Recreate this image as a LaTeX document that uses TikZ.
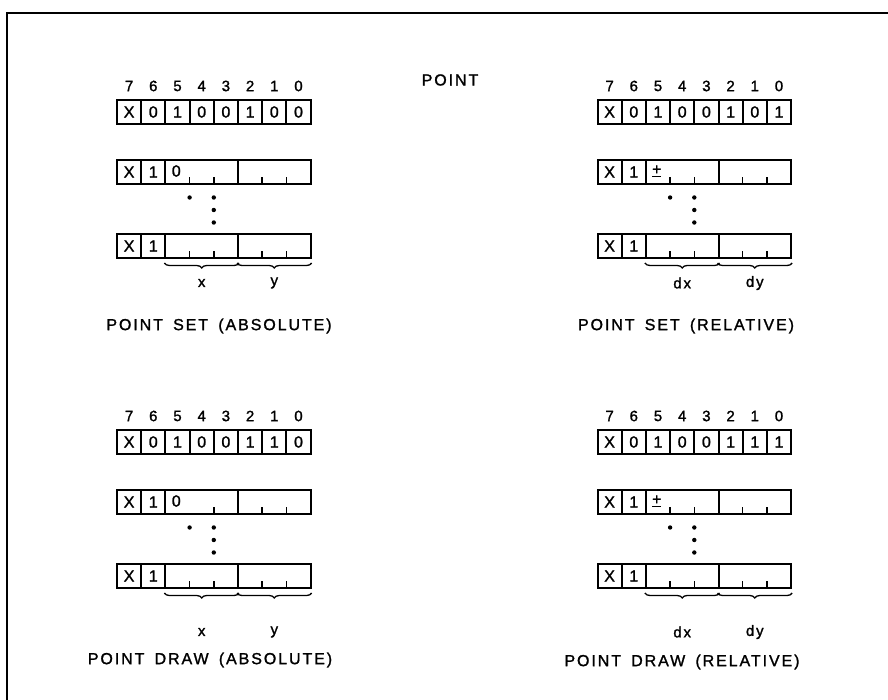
\documentclass[tikz,border=0pt]{standalone}
\usepackage{fontspec}
\setmainfont{Liberation Sans}[FakeBold=1.4]
\newfontfamily\ttlfont{Liberation Sans}[LetterSpace=12,FakeBold=1.4,WordSpace=1.6]
\usetikzlibrary{decorations.pathreplacing}
\def\cw{24.2}
\newcommand\regblock[9]{%
% #1 prefix, #2 x0, #3 y0, #4 bits 5..0, #5 row2 first text, #6 row2 ticks, #7 label A, #8 label B, #9 label y
\begin{scope}[shift={(#2,#3)}]
  \foreach \i in {0,...,7}{\pgfmathtruncatemacro\bb{7-\i}\node[bitnum] (#1n\i) at ({(\i+0.5)*\cw},-14) {\bb};}
  \node[cellbox] (#1ax) at (0.5*\cw,12) {X};
  \node[cellbox] (#1a1) at (1.5*\cw,12) {0};
  \foreach \v [count=\k from 2] in {#4}{\node[cellbox] (#1a\k) at ({(\k+0.5)*\cw},12) {\v};}
  % row 2
  \node[cellbox] (#1bx) at (0.5*\cw,72) {X};
  \node[cellbox] (#1b1) at (1.5*\cw,72) {1};
  \node[fieldbox] (#1bA) at (3.5*\cw,72) {};
  \node[fieldbox] (#1bB) at (6.5*\cw,72) {};
  \node[cellbox, draw=none] (#1bs) at (2.45*\cw,71) {#5};
  \foreach \t in {#6}{\draw[tickmark] ({\t*\cw},84) -- ++(0,-7);}
  \foreach \t in {6,7}{\draw[tickmark] ({\t*\cw},84) -- ++(0,-7);}
  % dots
  \node[dotmark] (#1d1) at (3*\cw,97.5) {};
  \node[dotmark] (#1d2) at (4*\cw,97.5) {};
  \node[dotmark] (#1d3) at (4*\cw,110) {};
  \node[dotmark] (#1d4) at (4*\cw,122.5) {};
  % row 3
  \node[cellbox] (#1cx) at (0.5*\cw,146) {X};
  \node[cellbox] (#1c1) at (1.5*\cw,146) {1};
  \node[fieldbox] (#1cA) at (3.5*\cw,146) {};
  \node[fieldbox] (#1cB) at (6.5*\cw,146) {};
  \foreach \t in {3,4,6,7}{\draw[tickmark] ({\t*\cw},158) -- ++(0,-7);}
  \draw[bracepath] ([yshift=-4pt]#1cA.south west) -- ([yshift=-4pt]#1cA.south east);
  \draw[bracepath] ([yshift=-4pt]#1cB.south west) -- ([yshift=-4pt]#1cB.south east);
  \node[fieldlabel] (#1lA) at (3.5*\cw,#9) {#7};
  \node[fieldlabel] (#1lB) at (6.5*\cw,#9) {#8};
\end{scope}}
\begin{document}
\begin{tikzpicture}[x=1pt,y=-1pt,
  boxline/.style={line width=2pt},
  cellbox/.style={draw, boxline, minimum width=24.2pt, minimum height=24pt, inner sep=0pt, font=\fontsize{16}{16}\selectfont},
  fieldbox/.style={draw, boxline, minimum width=72.6pt, minimum height=24pt, inner sep=0pt},
  bitnum/.style={font=\fontsize{15}{15}\selectfont, inner sep=0pt},
  tickmark/.style={line width=1.5pt},
  dotmark/.style={circle, fill, inner sep=0pt, minimum size=4.4pt},
  fieldlabel/.style={font=\fontsize{15}{15}\ttlfont, inner sep=0pt},
  titletext/.style={font=\fontsize{16}{16}\ttlfont, inner sep=0pt},
  bracepath/.style={decorate, decoration={brace, amplitude=5pt, mirror}, line width=1.3pt},
]
\useasboundingbox (0,0) rectangle (888,700);
\draw[line width=1.6pt] (7,700) -- (7,13) -- (888,13);
\node[titletext] (title) at (450,80) {POINT};
\regblock{tl}{117}{100}{1,0,0,1,0,0}{0}{3,4}{x}{y}{183}
\regblock{tr}{597.5}{100}{1,0,0,1,0,1}{\underline{+}}{3,4}{dx}{dy}{183}
\regblock{bl}{117}{430}{1,0,0,1,1,0}{0}{4}{x}{y}{202}
\regblock{br}{597.5}{430}{1,0,0,1,1,1}{\underline{+}}{3,4}{dx}{dy}{202}
\node[titletext] (ttl) at (219,326) {POINT SET (ABSOLUTE)};
\node[titletext] (ttr) at (686,326) {POINT SET (RELATIVE)};
\node[titletext] (tbl) at (210,660) {POINT DRAW (ABSOLUTE)};
\node[titletext] (tbr) at (682,662) {POINT DRAW (RELATIVE)};
\end{tikzpicture}
\end{document}
